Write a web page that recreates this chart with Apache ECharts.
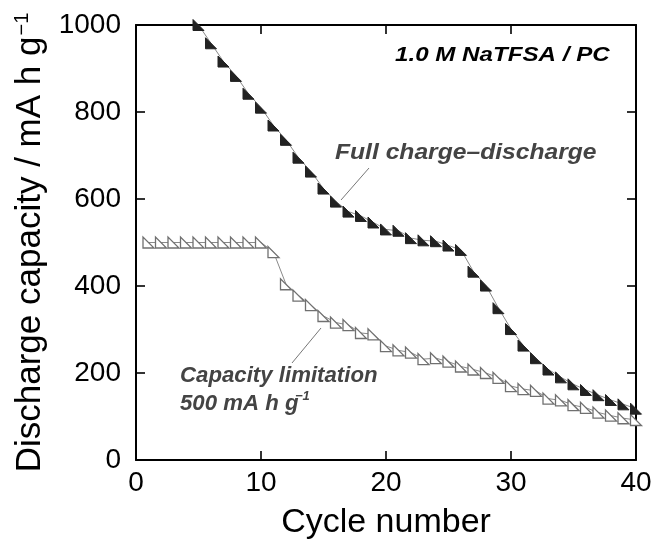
<!DOCTYPE html>
<html>
<head>
<meta charset="utf-8">
<script src="https://cdn.jsdelivr.net/npm/echarts@6/dist/echarts.min.js"></script>
<style>
html,body{margin:0;padding:0;background:#fff;}
#c{width:655px;height:545px;}
</style>
</head>
<body>
<div id="c"></div>
<script>
// Data
const fullCycles = [5,6,7,8,9,10,11,12,13,14,15,16,17,18,19,20,21,22,23,24,25,26,27,28,29,30,31,32,33,34,35,36,37,38,39,40];
const fullCapacity = [1000,958,916,883,842,810,769,736,695,663,624,594,571,561,546,530,527,510,505,503,493,483,433,401,349,301,263,234,208,190,174,161,149,138,128,118];
const limitCycles = [1,2,3,4,5,6,7,8,9,10,11,12,13,14,15,16,17,18,19,20,21,22,23,24,25,26,27,28,29,30,31,32,33,34,35,36,37,38,39,40];
const limitCapacity = [500,500,500,500,500,500,500,500,500,500,478,404,378,356,331,316,310,292,289,262,252,247,232,234,226,215,208,200,189,170,163,159,141,137,126,120,109,102,96,92];
const xTicks = [0,10,20,30,40];
const yTicks = [0,200,400,600,800,1000];

const FONT = '"Liberation Sans", Arial, Helvetica, sans-serif';
const tri = 'path://M0,0 L0,10 L10,10 Z';

const chart = echarts.init(document.getElementById('c'), null, {renderer:'canvas'});
const pairs = (xs, ys) => xs.map((x,i)=>[x, ys[i]]);

const axisCommon = {
  type:'value',
  axisLine:{show:true, onZero:false, lineStyle:{color:'#000', width:2}},
  axisTick:{show:true, inside:true, length:9, lineStyle:{color:'#000', width:1.6}},
  splitLine:{show:false},
  minorTick:{show:false}
};

const option = {
  animation:false,
  backgroundColor:'#fff',
  grid:{left:136, right:19, top:25, bottom:72, containLabel:false},
  xAxis:[
    Object.assign({}, axisCommon, {
      position:'bottom', min:xTicks[0], max:xTicks[xTicks.length-1], interval:10,
      axisLabel:{show:true, margin:9, color:'#000', fontSize:28, fontFamily:FONT, formatter:v=>String(v)},
      name:'Cycle number', nameLocation:'middle', nameGap:46,
      nameTextStyle:{color:'#000', fontSize:34, fontFamily:FONT}
    }),
    Object.assign({}, axisCommon, {
      position:'top', min:0, max:40, interval:10, axisLabel:{show:false}
    })
  ],
  yAxis:[
    Object.assign({}, axisCommon, {
      position:'left', min:yTicks[0], max:yTicks[yTicks.length-1], interval:200,
      axisLabel:{show:true, margin:15, color:'#000', fontSize:28, fontFamily:FONT, formatter:v=>String(v)},
      name:'{a|Discharge capacity / mA h g}{s|−1}', nameLocation:'middle', nameGap:80, nameRotate:90,
      nameTextStyle:{color:'#000', fontSize:35, fontFamily:FONT,
        rich:{a:{fontSize:35, fontFamily:FONT, color:'#000'},
              s:{fontSize:20, fontFamily:FONT, color:'#000', verticalAlign:'top', padding:[0,0,16,1]}}}
    }),
    Object.assign({}, axisCommon, {
      position:'right', min:0, max:1000, interval:200, axisLabel:{show:false}
    })
  ],
  series:[
    {
      name:'Capacity limitation', type:'line', data:pairs(limitCycles, limitCapacity),
      symbol:tri, symbolSize:[11,11], showAllSymbol:true, clip:false,
      lineStyle:{color:'#8a8a8a', width:1},
      itemStyle:{color:'#fff', borderColor:'#707070', borderWidth:1.3},
      z:2
    },
    {
      name:'Full charge-discharge', type:'line', data:pairs(fullCycles, fullCapacity),
      symbol:tri, symbolSize:[11,11], showAllSymbol:true, clip:false,
      lineStyle:{color:'#888', width:1},
      itemStyle:{color:'#222', borderColor:'#222', borderWidth:1},
      z:3
    }
  ],
  graphic:[
    {type:'text', left:395, top:45, style:{text:'1.0 M NaTFSA / PC', font:'italic bold 21px '+FONT, fill:'#000'}, scaleX:1.15},
    {type:'text', left:335, top:142, style:{text:'Full charge–discharge', font:'italic bold 22px '+FONT, fill:'#444'}, scaleX:1.12},
    {type:'text', left:180, top:365, style:{text:'Capacity limitation', font:'italic bold 22px '+FONT, fill:'#444'}, scaleX:1.01},
    {type:'text', left:180, top:393, style:{text:'500 mA h g', font:'italic bold 22px '+FONT, fill:'#444'}, scaleX:1.01},
    {type:'text', left:295, top:390, style:{text:'−1', font:'italic bold 13px '+FONT, fill:'#444'}},
    {type:'line', shape:{x1:341, y1:200, x2:369, y2:168}, style:{stroke:'#777', lineWidth:1}},
    {type:'line', shape:{x1:292, y1:363, x2:321, y2:328}, style:{stroke:'#777', lineWidth:1}}
  ]
};
chart.setOption(option);
</script>
</body>
</html>
